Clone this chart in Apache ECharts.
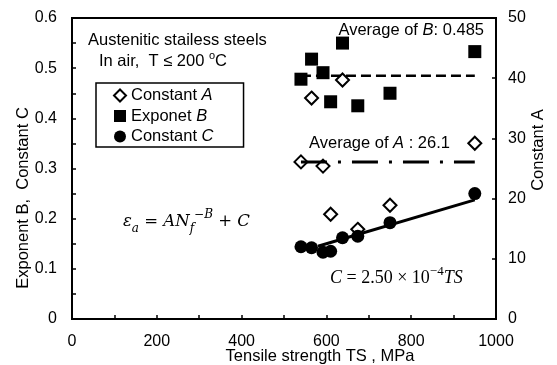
<!DOCTYPE html>
<html><head><meta charset="utf-8">
<script src="https://cdn.jsdelivr.net/npm/echarts@6/dist/echarts.min.js"></script>
<style>html,body{margin:0;padding:0;background:#fff}#c{width:557px;height:365px}</style>
</head><body><div id="c"></div>
<script>
// ---- data ----
const tensileStrength = [540, 565, 592, 610, 638, 674, 750, 950];
const constantA = [26.1, 36.7, 25.4, 17.4, 39.7, 14.9, 18.9, 29.2];
const exponentB = [0.478, 0.518, 0.491, 0.433, 0.550, 0.425, 0.450, 0.533];
const constantC = [0.144, 0.142, 0.133, 0.135, 0.162, 0.165, 0.192, 0.250];
const averageB = 0.485;
const averageA = 26.1;
const averageRange = [540, 950];
const fitTS = [580, 950];
const fitC = [0.145, 0.2375];
const seriesNames = ['Constant A', 'Exponet B', 'Constant C'];

const FONT = 'Liberation Sans';
const MATH = 'DejaVu Serif';
const MATH2 = 'Liberation Serif';
const FS = 16.5;
const pair = (xs, ys) => xs.map((x, i) => [x, ys[i]]);

const chart = echarts.init(document.getElementById('c'), null, {renderer: 'canvas'});
const axisLine = {lineStyle: {color: '#000', width: 2}};
const tick = {inside: true, length: 4, lineStyle: {color: '#000', width: 1.5}};
const minor = {show: true, splitNumber: 2, length: 4, lineStyle: {color: '#000', width: 1.5}};
const lbl = {color: '#000', fontFamily: FONT, fontSize: 16};

const mathRich = {
  v: {fontFamily: MATH, fontStyle: 'italic', fontSize: 16.5, lineHeight: 26, color: '#000'},
  n: {fontFamily: MATH, fontSize: 16.5, lineHeight: 26, color: '#000'},
  sub: {fontFamily: MATH, fontStyle: 'italic', fontSize: 12, lineHeight: 15, verticalAlign: 'bottom', color: '#000'},
  sup: {fontFamily: MATH, fontStyle: 'italic', fontSize: 12, lineHeight: 14, verticalAlign: 'top', color: '#000'}
};
const mathRich2 = {
  v: {fontFamily: MATH2, fontStyle: 'italic', fontSize: 18, lineHeight: 26, color: '#000'},
  n: {fontFamily: MATH2, fontSize: 18, lineHeight: 26, color: '#000'},
  supn: {fontFamily: MATH2, fontSize: 13, lineHeight: 15, verticalAlign: 'top', color: '#000'}
};
const sansRich = {
  r: {fontFamily: FONT, fontSize: FS, lineHeight: 22, color: '#000'},
  i: {fontFamily: FONT, fontSize: FS, fontStyle: 'italic', lineHeight: 22, color: '#000'},
  u: {fontFamily: FONT, fontSize: FS, lineHeight: 22, color: '#000'},
  sup: {fontFamily: FONT, fontSize: 11, lineHeight: 12, verticalAlign: 'top', color: '#000'}
};
function txt(x, y, text, align, rich) {
  return {type: 'text', x: x, y: y, z: 100,
    style: {text: text, rich: rich || sansRich, textAlign: align || 'left', textVerticalAlign: 'middle',
      fontFamily: FONT, fontSize: FS, fill: '#000'}};
}

chart.setOption({
  animation: false,
  backgroundColor: '#fff',
  grid: {left: 72, right: 61, top: 18, bottom: 46, show: true, borderColor: '#000', borderWidth: 2},
  legend: {
    orient: 'vertical', left: 96, top: 83,
    data: seriesNames,
    itemWidth: 12, itemHeight: 12, itemGap: 3.5,
    padding: [4, 30, 2, 17],
    borderColor: '#000', borderWidth: 1.5,
    formatter: n => { const p = n.split(' '); return '{r|' + p[0] + ' }{i|' + p[1] + '}'; },
    textStyle: {fontFamily: FONT, fontSize: FS, color: '#000', lineHeight: 14, rich: {
      r: {fontFamily: FONT, fontSize: FS, lineHeight: 14, color: '#000'},
      i: {fontFamily: FONT, fontSize: FS, lineHeight: 14, fontStyle: 'italic', color: '#000'}}}
  },
  xAxis: {
    type: 'value', min: 0, max: 1000, interval: 200,
    axisLine: axisLine, axisTick: tick, minorTick: minor, splitLine: {show: false},
    axisLabel: Object.assign({margin: 15, formatter: v => String(v)}, lbl)
  },
  yAxis: [{
    type: 'value', min: 0, max: 0.6, interval: 0.1, position: 'left',
    axisLine: Object.assign({show: true}, axisLine), axisTick: tick, minorTick: minor, splitLine: {show: false},
    axisLabel: Object.assign({margin: 15, formatter: v => v === 0 ? '0' : v.toFixed(1)}, lbl)
  }, {
    type: 'value', min: 0, max: 50, interval: 10, position: 'right',
    axisLine: Object.assign({show: true}, axisLine), axisTick: tick, splitLine: {show: false},
    axisLabel: Object.assign({margin: 12, formatter: v => String(v)}, lbl)
  }],
  series: [
    {type: 'line', name: 'avgB', yAxisIndex: 0, symbol: 'none', silent: true,
      data: pair(averageRange, [averageB, averageB]),
      lineStyle: {color: '#000', width: 2.5, type: [10, 5]}},
    {type: 'line', name: 'avgA', yAxisIndex: 1, symbol: 'none', silent: true,
      data: pair(averageRange, [averageA, averageA]),
      lineStyle: {color: '#000', width: 3, type: [26, 11, 3, 11]}},
    {type: 'line', name: 'fit', yAxisIndex: 0, symbol: 'none', silent: true,
      data: pair(fitTS, fitC),
      lineStyle: {color: '#000', width: 3}},
    {type: 'scatter', name: seriesNames[1], yAxisIndex: 0, symbol: 'rect', symbolSize: 13,
      data: pair(tensileStrength, exponentB), itemStyle: {color: '#000', opacity: 1}},
    {type: 'scatter', name: seriesNames[0], yAxisIndex: 1, symbol: 'diamond', symbolSize: 13,
      data: pair(tensileStrength, constantA), itemStyle: {color: '#fff', borderColor: '#000', borderWidth: 2, opacity: 1}},
    {type: 'scatter', name: seriesNames[2], yAxisIndex: 0, symbol: 'circle', symbolSize: 13,
      data: pair(tensileStrength, constantC), itemStyle: {color: '#000', opacity: 1}}
  ],
  graphic: [
    txt(88, 40, '{r|Austenitic stailess steels}'),
    txt(99, 61, '{r|In air,  T }{u|≤}{r| 200 }{sup|o}{r|C}'),
    txt(484, 30, '{r|Average of }{i|B}{r|: 0.485}', 'right'),
    txt(309, 143, '{r|Average of }{i|A}{r| : 26.1}'),
    txt(123, 222, '{v|ε}{sub|a}{n| = }{v|AN}{sub|f}{sup|−B}{n| + }{v|C}', 'left', mathRich),
    txt(330, 278, '{v|C}{n| = 2.50 × 10}{supn|−4}{v|TS}', 'left', mathRich2),
    {type: 'text', x: 320, y: 356, style: {text: 'Tensile strength TS , MPa', fontFamily: FONT, fontSize: FS,
      fill: '#000', textAlign: 'center', textVerticalAlign: 'middle'}},
    {type: 'text', x: 23, y: 198, rotation: Math.PI / 2, style: {text: 'Exponent B,  Constant C', fontFamily: FONT,
      fontSize: FS, fill: '#000', textAlign: 'center', textVerticalAlign: 'middle'}},
    {type: 'text', x: 538, y: 150, rotation: Math.PI / 2, style: {text: 'Constant A', fontFamily: FONT,
      fontSize: FS, fill: '#000', textAlign: 'center', textVerticalAlign: 'middle'}}
  ]
});
</script></body></html>
